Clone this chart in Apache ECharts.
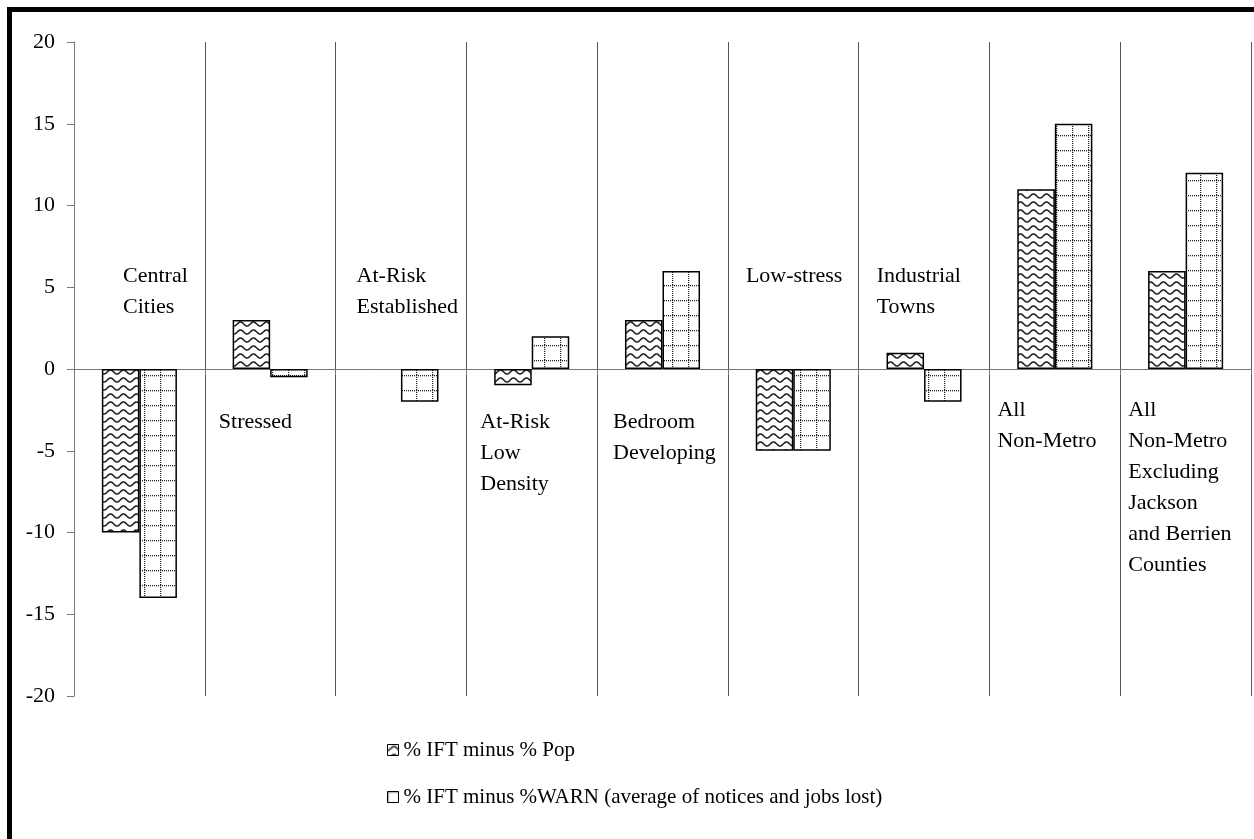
<!DOCTYPE html>
<html>
<head>
<meta charset="utf-8">
<script src="https://cdn.jsdelivr.net/npm/echarts@6/dist/echarts.min.js"></script>
<style>
  html, body { margin: 0; padding: 0; background: #fff; }
  #chart { width: 1254px; height: 839px; }
</style>
</head>
<body>
<div id="chart"></div>
<script>
// Region types (label text, line breaks as drawn)
const categories = [
  'Central\nCities',
  'Stressed',
  'At-Risk\nEstablished',
  'At-Risk\nLow\nDensity',
  'Bedroom\nDeveloping',
  'Low-stress',
  'Industrial\nTowns',
  'All\nNon-Metro',
  'All\nNon-Metro\nExcluding\nJackson\nand Berrien\nCounties'
];
const seriesNames = [
  '% IFT minus % Pop',
  '% IFT minus %WARN (average of notices and jobs lost)'
];
// Percentage-point differences
const iftMinusPop  = [-10, 3, 0, -1, 3, -5, 1, 11, 6];
const iftMinusWarn = [-14, -0.5, -2, 2, 6, -5, -2, 15, 12];
// Value axis range
const yMin = -20, yMax = 20, yStep = 5;

// Placement of each region's caption: offset from its band's left edge (px)
// and the axis value where the first text line is centred.
const captionPlacement = [
  { dx: 49, at: 5.7 },
  { dx: 14, at: -3.25 },
  { dx: 21, at: 5.7 },
  { dx: 14, at: -3.25 },
  { dx: 16, at: -3.25 },
  { dx: 18, at: 5.7 },
  { dx: 18, at: 5.7 },
  { dx: 8,  at: -2.5 },
  { dx: 8,  at: -2.5 }
];

const FONT = '"Liberation Serif", "Times New Roman", serif';

// Wavy fill for the first series
function wavePattern() {
  const c = document.createElement('canvas');
  c.width = 13; c.height = 8;
  const g = c.getContext('2d');
  g.fillStyle = '#fff';
  g.fillRect(0, 0, c.width, c.height);
  g.strokeStyle = '#222';
  g.lineWidth = 1.6;
  g.beginPath();
  for (let x = -1; x <= 14; x += 0.5) {
    const y = 4 + 2 * Math.cos(2 * Math.PI * x / 13);
    if (x === -1) g.moveTo(x, y); else g.lineTo(x, y);
  }
  g.stroke();
  return c;
}

// Dotted grid fill for the second series
function gridPattern() {
  const c = document.createElement('canvas');
  c.width = 16; c.height = 15;
  const g = c.getContext('2d');
  g.fillStyle = '#fff';
  g.fillRect(0, 0, c.width, c.height);
  g.fillStyle = '#222';
  for (let x = 0; x < c.width; x += 2) g.fillRect(x, 0, 1, 1.3);
  for (let y = 0; y < c.height; y += 2) g.fillRect(0, y, 1.3, 1);
  return c;
}

const chart = echarts.init(document.getElementById('chart'), null, { renderer: 'canvas' });

const barStyle = (img) => ({
  color: { image: img, repeat: 'repeat' },
  borderColor: '#000',
  borderWidth: 1.5
});

// Zero-height bars leave no outline on the axis
const barData = (values) => values.map(v =>
  v === 0 ? { value: v, itemStyle: { borderWidth: 0 } } : v
);

chart.setOption({
  animation: false,
  backgroundColor: '#fff',
  textStyle: { fontFamily: FONT },
  grid: { left: 74, right: 3, top: 42, bottom: 143 },
  legend: {
    orient: 'vertical',
    left: 382,
    top: 733,
    itemWidth: 11,
    itemHeight: 11,
    itemGap: 23,
    icon: 'rect',
    itemStyle: { borderColor: '#000', borderWidth: 1 },
    textStyle: { fontFamily: FONT, fontSize: 21, color: '#000', lineHeight: 24 },
    data: seriesNames
  },
  xAxis: {
    type: 'category',
    data: categories,
    boundaryGap: true,
    axisLine: { onZero: true, lineStyle: { color: '#777', width: 1 } },
    axisTick: { show: true, length: 6, lineStyle: { color: '#777' } },
    axisLabel: { show: false },
    splitLine: { show: true, lineStyle: { color: '#555', width: 1 } }
  },
  yAxis: {
    type: 'value',
    min: yMin,
    max: yMax,
    interval: yStep,
    axisLine: { show: true, lineStyle: { color: '#777', width: 1 } },
    axisTick: { show: true, length: 7, lineStyle: { color: '#777' } },
    axisLabel: { fontFamily: FONT, fontSize: 22, color: '#000', margin: 19 },
    splitLine: { show: false }
  },
  series: [
    {
      name: seriesNames[0],
      type: 'bar',
      data: barData(iftMinusPop),
      barWidth: '28.7%',
      barGap: '0%',
      itemStyle: barStyle(wavePattern())
    },
    {
      name: seriesNames[1],
      type: 'bar',
      data: barData(iftMinusWarn),
      barWidth: '28.7%',
      barGap: '0%',
      itemStyle: barStyle(gridPattern())
    }
  ]
});

// Region captions inside each band, plus the outer frame
const first = chart.convertToPixel({ xAxisIndex: 0 }, 0);
const second = chart.convertToPixel({ xAxisIndex: 0 }, 1);
const band = second - first;
const LINE = 31;
const captions = categories.map((name, i) => {
  const left = chart.convertToPixel({ xAxisIndex: 0 }, i) - band / 2;
  const yc = chart.convertToPixel({ yAxisIndex: 0 }, captionPlacement[i].at);
  return {
    type: 'text',
    silent: true,
    z: 10,
    x: left + captionPlacement[i].dx,
    y: yc - LINE / 2,
    style: {
      text: name,
      font: '22px ' + FONT,
      fill: '#000',
      lineHeight: LINE,
      verticalAlign: 'top',
      align: 'left'
    }
  };
});

chart.setOption({
  graphic: [
    {
      type: 'rect',
      silent: true,
      z: 20,
      shape: { x: 9.5, y: 9.5, width: 1400, height: 1000 },
      style: { fill: null, stroke: '#000', lineWidth: 5 }
    },
    ...captions
  ]
});
</script>
</body>
</html>
